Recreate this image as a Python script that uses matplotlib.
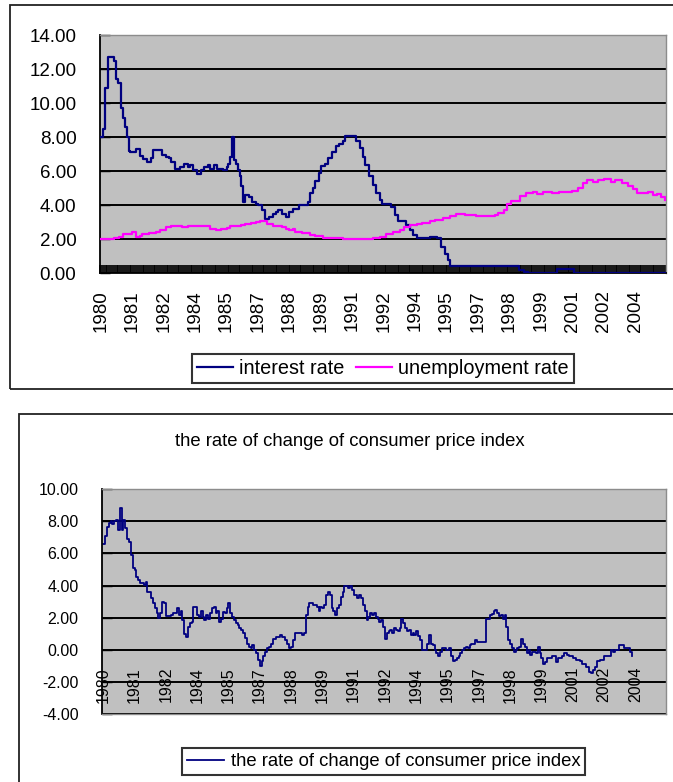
import numpy as np
import matplotlib
matplotlib.use("Agg")
import matplotlib.pyplot as plt
from matplotlib.patches import Rectangle

# ---------------- data (monthly, month 0 = Jan 1980) ----------------
year_labels = ['1980', '1981', '1982', '1984', '1985', '1987', '1988', '1989', '1991',
               '1992', '1994', '1995', '1997', '1998', '1999', '2001', '2002', '2004']
label_every = 17          # a category label every 17 months
n_months = 306

# interest rate: month at which the value changes, and the value
ir_month = [0, 1, 2, 4, 7, 8, 9, 11, 12, 13, 14, 15, 16, 19, 21, 23, 25, 27, 28, 33, 35, 37, 38,
            40, 43, 45, 47, 48, 50, 52, 54, 56, 58, 59, 61, 63, 66, 68, 69, 70, 71, 72, 73, 74,
            75, 76, 77, 78, 80, 82, 84, 85, 87, 89, 91, 93, 95, 96, 98, 100, 102, 104, 107, 112,
            113, 115, 116, 118, 119, 121, 123, 125, 127, 129, 131, 132, 138, 140, 142, 143, 145,
            147, 149, 151, 152, 157, 159, 161, 165, 167, 169, 171, 178, 182, 184, 186, 188, 189,
            226, 229, 231, 247, 256, 305]
ir_value = [8.0, 8.5, 10.9, 12.7, 12.5, 11.4, 11.2, 9.7, 9.1, 8.6, 8.0, 7.2, 7.1, 7.3, 6.9, 6.7,
            6.55, 6.75, 7.25, 6.95, 6.85, 6.75, 6.55, 6.15, 6.25, 6.45, 6.25, 6.35, 6.05, 5.85,
            6.05, 6.25, 6.35, 6.15, 6.35, 6.15, 6.05, 6.25, 6.45, 6.85, 8.0, 6.65, 6.45, 6.05,
            5.7, 5.1, 4.2, 4.6, 4.5, 4.2, 4.1, 4.0, 3.7, 3.2, 3.3, 3.5, 3.6, 3.7, 3.5, 3.3, 3.6,
            3.8, 4.0, 4.2, 4.7, 5.0, 5.4, 5.9, 6.3, 6.45, 6.75, 7.15, 7.45, 7.6, 7.8, 8.05, 7.8,
            7.35, 6.85, 6.35, 5.7, 5.2, 4.7, 4.3, 4.1, 3.9, 3.4, 3.1, 2.85, 2.55, 2.25, 2.05,
            2.15, 2.05, 1.55, 1.15, 0.8, 0.4, 0.2, 0.05, 0.0, 0.25, 0.0, 0.0]

# unemployment rate
un_month = [0, 7, 10, 12, 17, 19, 21, 22, 26, 30, 32, 35, 38, 44, 47, 50, 59, 62, 65, 68, 70, 73,
            76, 78, 81, 84, 86, 88, 90, 93, 96, 98, 100, 102, 104, 105, 109, 113, 116, 120, 124,
            131, 147, 151, 154, 158, 162, 164, 167, 171, 174, 178, 181, 185, 189, 192, 197, 203,
            213, 215, 218, 220, 222, 227, 230, 234, 236, 239, 242, 244, 248, 255, 258, 261, 263,
            266, 269, 272, 276, 278, 282, 285, 288, 290, 296, 299, 301, 303, 305]
un_value = [2.0, 2.05, 2.15, 2.3, 2.45, 2.15, 2.2, 2.3, 2.35, 2.4, 2.55, 2.7, 2.75, 2.7, 2.75,
            2.8, 2.6, 2.55, 2.6, 2.65, 2.75, 2.8, 2.85, 2.9, 2.95, 3.0, 3.05, 3.1, 2.9, 2.8,
            2.75, 2.7, 2.6, 2.55, 2.6, 2.45, 2.35, 2.25, 2.2, 2.1, 2.05, 2.0, 2.05, 2.15, 2.3,
            2.4, 2.55, 2.7, 2.85, 2.9, 2.95, 3.1, 3.15, 3.25, 3.35, 3.5, 3.4, 3.35, 3.45, 3.55,
            3.7, 4.1, 4.25, 4.55, 4.7, 4.8, 4.65, 4.75, 4.8, 4.7, 4.75, 4.85, 5.0, 5.3, 5.5,
            5.35, 5.5, 5.55, 5.35, 5.5, 5.3, 5.1, 4.95, 4.7, 4.8, 4.6, 4.65, 4.5, 4.3]

# rate of change of consumer price index
cpi_month = [0, 1, 2, 3, 4, 5, 6, 7, 8, 9, 10, 11, 12, 13, 14, 15, 16, 17, 18, 19, 20, 22, 23, 24,
             26, 27, 28, 29, 30, 31, 32, 33, 34, 37, 38, 40, 41, 42, 43, 44, 45, 46, 47, 48, 49,
             51, 52, 53, 54, 55, 56, 57, 58, 59, 60, 61, 62, 63, 64, 65, 66, 67, 68, 69, 70, 71,
             72, 73, 74, 75, 76, 77, 78, 79, 80, 81, 82, 83, 84, 85, 86, 87, 88, 89, 90, 91, 92,
             94, 96, 97, 99, 100, 101, 102, 103, 104, 108, 109, 110, 111, 112, 114, 116, 117,
             118, 119, 120, 121, 122, 123, 124, 125, 126, 127, 128, 129, 130, 131, 132, 133, 134,
             135, 136, 138, 139, 140, 141, 142, 143, 144, 145, 146, 147, 148, 149, 150, 151, 152,
             153, 154, 155, 156, 157, 158, 159, 160, 161, 162, 163, 164, 165, 166, 167, 168, 169,
             170, 171, 172, 173, 176, 177, 178, 179, 180, 181, 182, 183, 184, 186, 188, 189, 190,
             191, 192, 193, 194, 195, 196, 197, 198, 199, 200, 202, 203, 207, 208, 210, 211, 212,
             213, 214, 215, 216, 217, 218, 219, 220, 221, 222, 223, 224, 225, 226, 227, 228, 229,
             230, 231, 232, 233, 235, 236, 237, 238, 239, 240, 241, 244, 246, 247, 249, 250, 252,
             253, 255, 257, 259, 260, 262, 264, 265, 266, 267, 268, 270, 272, 274, 276, 277, 278,
             280, 282, 283, 285, 286, 287]
cpi_value = [6.6, 7.1, 7.65, 7.9, 8.0, 7.8, 8.0, 8.1, 7.45, 8.8, 7.45, 8.1, 7.55, 6.9, 6.7, 5.9,
             5.1, 5.0, 4.55, 4.35, 4.15, 4.05, 4.25, 3.6, 3.2, 2.9, 2.6, 2.3, 2.0, 2.3, 3.0, 2.9,
             2.1, 2.15, 2.3, 2.6, 2.2, 2.4, 1.85, 1.0, 0.8, 1.45, 1.65, 1.75, 2.7, 2.2, 2.05, 2.4,
             2.05, 1.85, 2.2, 1.95, 2.3, 2.6, 2.7, 2.3, 2.4, 1.75, 1.95, 2.35, 2.3, 2.6, 2.9, 2.3,
             2.05, 1.85, 1.65, 1.55, 1.35, 1.25, 1.05, 0.75, 0.4, 0.2, 0.1, 0.3, 0.0, -0.2, -0.6,
             -1.0, -0.7, -0.4, -0.1, 0.1, 0.2, 0.4, 0.7, 0.8, 0.95, 0.8, 0.6, 0.4, 0.1, 0.2, 0.6,
             1.05, 0.95, 1.05, 2.2, 2.7, 2.9, 2.8, 2.7, 2.4, 2.7, 2.6, 2.8, 3.4, 3.6, 3.4, 2.6,
             2.4, 2.15, 2.6, 2.8, 3.3, 3.6, 3.95, 4.0, 3.85, 3.95, 3.75, 3.4, 3.2, 3.4, 3.2, 2.8,
             2.4, 1.85, 2.05, 2.3, 2.2, 2.3, 2.05, 1.95, 1.75, 1.85, 1.45, 0.7, 1.05, 1.15, 1.25,
             1.05, 1.35, 1.25, 1.15, 1.35, 1.95, 1.65, 1.35, 1.15, 1.25, 0.95, 1.05, 0.95, 1.15,
             0.85, 0.6, 0.0, 0.4, 0.95, 0.4, 0.3, 0.0, -0.2, -0.4, -0.1, 0.1, 0.0, 0.1, -0.4, -0.7,
             -0.6, -0.5, -0.4, -0.2, 0.0, 0.1, 0.2, 0.1, 0.3, 0.4, 0.6, 0.5, 0.5, 1.95, 2.15,
             2.25, 2.4, 2.5, 2.3, 2.1, 2.2, 1.95, 2.15, 1.45, 0.6, 0.4, 0.1, -0.1, 0.0, 0.1, 0.2,
             0.7, 0.4, 0.2, -0.2, 0.0, -0.3, -0.1, -0.2, 0.2, -0.2, -0.5, -0.85, -0.75, -0.5,
             -0.4, -0.75, -0.5, -0.4, -0.2, -0.3, -0.4, -0.5, -0.6, -0.7, -0.85, -1.05, -1.35,
             -1.45, -1.25, -1.05, -0.7, -0.6, -0.4, -0.4, 0.0, -0.1, 0.0, 0.3, 0.3, 0.1, 0.1,
             -0.1, -0.4]

top_yticks = [0, 2, 4, 6, 8, 10, 12, 14]
bottom_yticks = [-4, -2, 0, 2, 4, 6, 8, 10]

# ---------------- figure ----------------
W, H = 673, 782
plt.rcParams['font.family'] = ['Liberation Sans', 'DejaVu Sans']
fig = plt.figure(figsize=(W / 100, H / 100), dpi=100)


def fx(px):
    return px / W


def fy(py):
    return 1 - py / H


# panel borders
fig.add_artist(Rectangle((fx(9.5), fy(389)), fx(700) - fx(9.5), fy(5) - fy(389),
                         transform=fig.transFigure, fill=False, lw=1.3, ec='#222222'))
fig.add_artist(Rectangle((fx(19), fy(820)), fx(700) - fx(19), fy(414) - fy(820),
                         transform=fig.transFigure, fill=False, lw=1.3, ec='#222222'))

NAVY = '#000080'
MAGENTA = '#ff00ff'
GREY = '#c0c0c0'
label_pos = [i * label_every + 0.5 for i in range(len(year_labels))]


def style_axes(ax, yticks, fs):
    ax.set_facecolor(GREY)
    ax.set_xlim(0, n_months)
    ax.set_ylim(yticks[0], yticks[-1])
    ax.set_yticks(yticks)
    ax.set_yticklabels([f"{v:.2f}" for v in yticks], fontsize=fs)
    ax.yaxis.grid(True, color='black', lw=1.4)
    ax.set_axisbelow(True)
    ax.spines['left'].set_color('black')
    ax.spines['left'].set_linewidth(1.3)
    for s in ('top', 'right'):
        ax.spines[s].set_color('#8c8c8c')
        ax.spines[s].set_linewidth(1.0)
    ax.tick_params(axis='y', direction='in', length=7, width=1.0, color='black', pad=17)


# ---- top chart ----
ax1 = fig.add_axes([fx(100), fy(273.3), fx(665.5) - fx(100), fy(35) - fy(273.3)])
style_axes(ax1, top_yticks, 13.5)
ax1.spines['bottom'].set_color('black')
ax1.spines['bottom'].set_linewidth(1.3)
l1, = ax1.plot(np.array(ir_month) + 0.5, ir_value, drawstyle='steps-post', color=NAVY,
               lw=1.6, label='interest rate', zorder=3)
l2, = ax1.plot(np.array(un_month) + 0.5, un_value, drawstyle='steps-post', color=MAGENTA,
               lw=1.6, label='unemployment rate', zorder=3)
ax1.set_xticks(label_pos)
ax1.set_xticklabels(year_labels, rotation=90, fontsize=13.5)
ax1.set_xticks(np.arange(0, n_months + 1), minor=True)
ax1.tick_params(axis='x', which='major', length=0, pad=12)
ax1.tick_params(axis='x', which='minor', direction='in', length=6, width=1.25, color='black')

leg1 = fig.legend(handles=[l1, l2], labels=['interest rate', 'unemployment rate'],
                  loc='center', bbox_to_anchor=(fx(383), fy(368.5)), ncol=2,
                  fontsize=14.3, frameon=True, fancybox=False, edgecolor='black',
                  handlelength=1.8, handletextpad=0.3, columnspacing=0.6,
                  borderpad=0.25, borderaxespad=0)
leg1.get_frame().set_linewidth(1.5)
leg1.get_frame().set_facecolor('white')

# ---- bottom chart ----
fig.text(fx(350), fy(442), 'the rate of change of consumer price index',
         ha='center', va='center', fontsize=13.3)
ax2 = fig.add_axes([fx(102.3), fy(714.4), fx(665.7) - fx(102.3), fy(489) - fy(714.4)])
style_axes(ax2, bottom_yticks, 11.5)
ax2.spines['bottom'].set_color('#8c8c8c')
ax2.spines['bottom'].set_linewidth(1.0)
ax2.set_xticks([])
l3, = ax2.plot(np.array(cpi_month) + 0.5, cpi_value, drawstyle='steps-post', color=NAVY,
               lw=1.3, label='the rate of change of consumer price index')
for pos, lab in zip(label_pos, year_labels):
    ax2.text(pos, -1.05, lab, rotation=90, ha='center', va='top', fontsize=11.5)

leg2 = fig.legend(handles=[l3], labels=['the rate of change of consumer price index'],
                  loc='center', bbox_to_anchor=(fx(383.5), fy(761.5)), ncol=1,
                  fontsize=13.3, frameon=True, fancybox=False, edgecolor='black',
                  handlelength=2.05, handletextpad=0.35, borderpad=0.25, borderaxespad=0)
leg2.get_frame().set_linewidth(1.5)
leg2.get_frame().set_facecolor('white')

fig.savefig('out.png', dpi=100)
